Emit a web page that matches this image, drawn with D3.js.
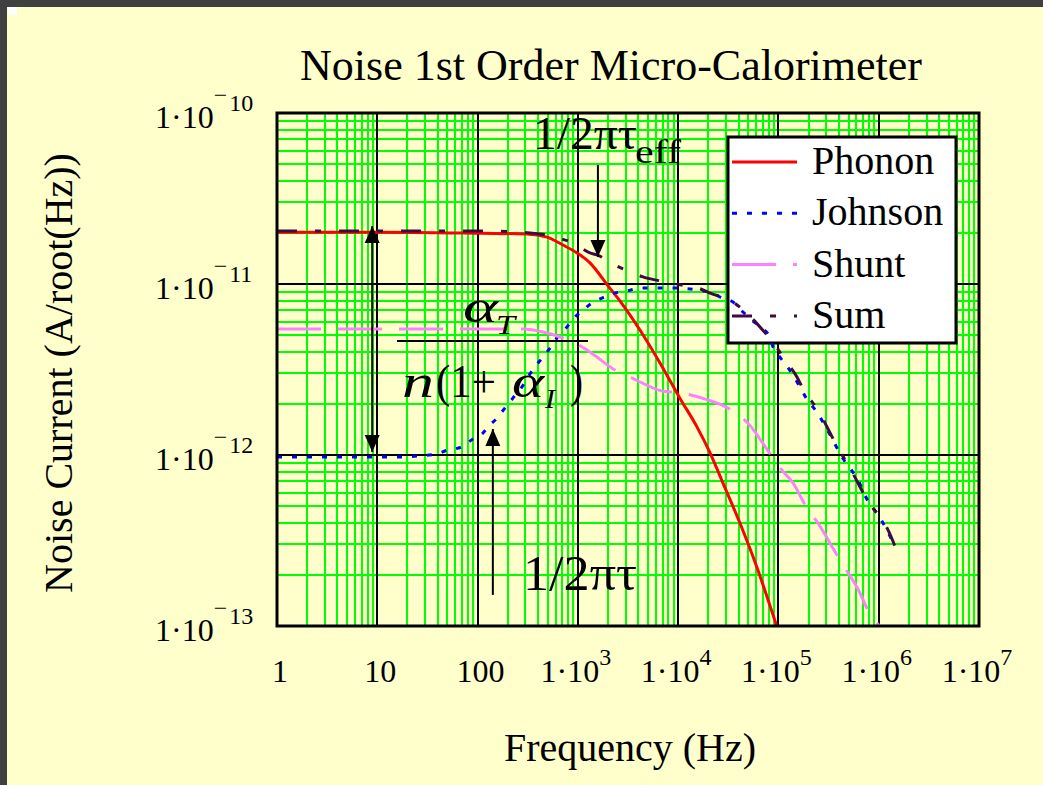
<!DOCTYPE html>
<html>
<head>
<meta charset="utf-8">
<script src="https://cdn.jsdelivr.net/npm/d3@7"></script>
<style>
  html, body { margin: 0; padding: 0; background: #404040; }
  svg { display: block; }
  text { font-family: "Liberation Serif", "Times New Roman", serif; fill: #000; }
</style>
</head>
<body>
<svg id="chart" width="1043" height="785"></svg>
<script>
// ---- axis ticks and labels ----
const xTickValues = [1, 10, 100, 1e3, 1e4, 1e5, 1e6, 1e7];
const xTickBase   = ["1", "10", "100", "1·10", "1·10", "1·10", "1·10", "1·10"];
const xTickSup    = ["", "", "", "3", "4", "5", "6", "7"];
const yTickValues = [1e-10, 1e-11, 1e-12, 1e-13];
const yTickBase   = ["1·10", "1·10", "1·10", "1·10"];
const yTickSup    = ["10", "11", "12", "13"];   // negative exponents

const seriesNames = ["Phonon", "Johnson", "Shunt", "Sum"];

// ---- noise spectra (A/√Hz) vs frequency (Hz) ----
const phononFreq  = [1, 10, 106, 311, 492, 710, 980, 1320, 2000, 2820, 4160, 6590, 10400, 15400, 20800, 28000, 41300, 61100, 96600];
const phononNoise = [2.01e-11, 2.01e-11, 1.98e-11, 1.96e-11, 1.88e-11, 1.69e-11, 1.52e-11, 1.33e-11, 9.75e-12, 7.53e-12, 5.38e-12, 3.45e-12, 2.15e-12, 1.46e-12, 1.03e-12, 6.85e-13, 4.0e-13, 2.2e-13, 9.9e-14];

const johnsonFreq  = [1, 14, 37.6, 50.7, 68.2, 89.9, 111, 130, 156, 187, 225, 277, 318, 373, 449, 540, 664, 778, 914, 1100, 1380, 1740, 2340, 3090, 4160, 8280, 15700, 21700, 27400, 35200, 44300, 54500, 65500, 82200, 88100, 101000, 122000, 164000, 192000, 237000, 333000, 430000, 516000, 607000, 762000, 1030000, 1450000];
const johnsonNoise = [9.73e-13, 9.73e-13, 1.01e-12, 1.07e-12, 1.11e-12, 1.24e-12, 1.33e-12, 1.48e-12, 1.64e-12, 1.88e-12, 2.15e-12, 2.50e-12, 2.86e-12, 3.27e-12, 3.74e-12, 4.29e-12, 5.11e-12, 5.61e-12, 6.32e-12, 6.95e-12, 7.74e-12, 8.28e-12, 8.85e-12, 9.10e-12, 9.48e-12, 9.48e-12, 9.23e-12, 8.85e-12, 8.28e-12, 7.85e-12, 6.86e-12, 6.15e-12, 5.61e-12, 4.90e-12, 4.30e-12, 3.80e-12, 3.30e-12, 2.50e-12, 2.12e-12, 1.81e-12, 1.29e-12, 9.73e-13, 8.39e-13, 7.33e-13, 5.53e-13, 4.29e-13, 2.94e-13];

const shuntFreq  = [1, 284, 449, 664, 935, 1320, 2340, 3460, 6890, 10400, 19800, 31400, 54500, 68600, 108000, 140000, 197000, 248000, 349000, 430000, 650000, 762000, 1030000];
const shuntNoise = [5.45e-12, 5.45e-12, 5.24e-12, 4.90e-12, 4.52e-12, 4.00e-12, 3.14e-12, 2.82e-12, 2.37e-12, 2.31e-12, 2.10e-12, 1.88e-12, 1.44e-12, 1.19e-12, 8.17e-13, 6.85e-13, 4.77e-13, 4.00e-13, 2.86e-13, 2.33e-13, 1.56e-13, 1.27e-13, 9.9e-14];

const sumFreq  = [1, 124, 492, 591, 893, 1320, 1550, 2340, 3540, 4460, 7390, 12300, 15700, 20800, 35200, 41300, 76800, 88100, 116000, 153000, 172000, 272000, 305000, 383000, 516000, 855000, 959000, 1240000, 1450000];
const sumNoise = [2.04e-11, 2.04e-11, 1.94e-11, 1.88e-11, 1.74e-11, 1.52e-11, 1.48e-11, 1.29e-11, 1.16e-11, 1.10e-11, 1.03e-11, 9.73e-12, 9.48e-12, 8.85e-12, 7.85e-12, 7.33e-12, 5.04e-12, 4.58e-12, 3.60e-12, 2.86e-12, 2.50e-12, 1.67e-12, 1.46e-12, 1.13e-12, 8.39e-13, 4.97e-13, 4.58e-13, 3.64e-13, 2.94e-13];

// annotation anchors in data units
const tauEffArrow = { f: 1585, from: 4.97e-11, to: 1.44e-11 };
const tauArrow    = { f: 142,  from: 1.52e-13, to: 1.42e-12 };
const gainArrow   = { f: 8.9,  top: 2.18e-11, bottom: 1.04e-12 };

// ---- layout ----
const W = 1043, H = 785;
const plot = { left: 277, top: 113, right: 979, bottom: 626 };
const svg = d3.select("#chart");

svg.append("rect").attr("width", W).attr("height", H).attr("fill", "#404040");
svg.append("rect").attr("x", 7).attr("y", 7).attr("width", W - 7).attr("height", H - 7).attr("fill", "#FFFFCC");
svg.append("rect").attr("x", 8).attr("y", 7).attr("width", 9).attr("height", 8).attr("fill", "#FFFFFF");

const x = d3.scaleLog().domain([1, 1e7]).range([plot.left, plot.right]);
const y = d3.scaleLog().domain([1e-13, 1e-10]).range([plot.bottom, plot.top]);
const plotW = plot.right - plot.left, plotH = plot.bottom - plot.top;

// ---- grid ----
const minorX = [], minorY = [];
for (let d = 0; d < 7; d++) for (let k = 2; k <= 9; k++) minorX.push(k * Math.pow(10, d));
for (let d = -13; d < -10; d++) for (let k = 2; k <= 9; k++) minorY.push(k * Math.pow(10, d));
const majorX = xTickValues.slice(1, -1);
const majorY = yTickValues.slice(1, -1);

function gridX(values, color, width) {
  const g = svg.append("g").attr("transform", `translate(0,${plot.bottom})`)
    .call(d3.axisBottom(x).tickValues(values).tickSize(-plotH).tickSizeOuter(0).tickFormat(""));
  g.select(".domain").remove();
  g.selectAll(".tick").attr("transform", d => `translate(${x(d)},0)`);
  g.selectAll("line").attr("stroke", color).attr("stroke-width", width).attr("shape-rendering", "crispEdges");
}
function gridY(values, color, width) {
  const g = svg.append("g").attr("transform", `translate(${plot.left},0)`)
    .call(d3.axisLeft(y).tickValues(values).tickSize(-plotW).tickSizeOuter(0).tickFormat(""));
  g.select(".domain").remove();
  g.selectAll(".tick").attr("transform", d => `translate(0,${y(d)})`);
  g.selectAll("line").attr("stroke", color).attr("stroke-width", width).attr("shape-rendering", "crispEdges");
}
gridX(minorX, "#00FF00", 2);
gridY(minorY, "#00FF00", 2);
gridX(majorX, "#000000", 2);
gridY(majorY, "#000000", 2);

// ---- tick labels ----
const xl = svg.append("g");
xTickValues.forEach((v, i) => {
  const t = xl.append("text")
    .attr("x", x(v) + (xTickSup[i] ? -2 : 3))
    .attr("y", 682)
    .attr("text-anchor", "middle")
    .attr("font-size", 32);
  t.append("tspan").text(xTickBase[i]);
  if (xTickSup[i]) t.append("tspan").attr("font-size", 24).attr("dy", -17).text(xTickSup[i]);
});

const yl = svg.append("g");
yTickValues.forEach((v, i) => {
  const t = yl.append("text")
    .attr("x", 155)
    .attr("y", y(v) + 15)
    .attr("font-size", 32);
  t.append("tspan").text(yTickBase[i]);
  t.append("tspan").attr("font-size", 24).attr("dy", -25).text("\u2212");
  t.append("tspan").attr("font-size", 24).attr("dx", 2).attr("dy", 8).text(yTickSup[i]);
});

// ---- titles ----
svg.append("text").attr("x", 611).attr("y", 80).attr("text-anchor", "middle")
  .attr("font-size", 44).text("Noise 1st Order Micro-Calorimeter");
svg.append("text").attr("x", 630).attr("y", 761).attr("text-anchor", "middle")
  .attr("font-size", 40).text("Frequency (Hz)");
svg.append("text").attr("transform", "translate(72,373) rotate(-90)").attr("text-anchor", "middle")
  .attr("font-size", 40).text("Noise Current (A/root(Hz))");

// ---- legend box (curves are drawn over it) ----
const series = [
  { f: phononFreq,  v: phononNoise,  color: "#FF0000", dash: null,         width: 3 },
  { f: johnsonFreq, v: johnsonNoise, color: "#0000FF", dash: "5,10",       width: 3 },
  { f: shuntFreq,   v: shuntNoise,   color: "#FF80FF", dash: "44,17",      width: 3 },
  { f: sumFreq,     v: sumNoise,     color: "#400A40", dash: "20,18,6,18", width: 3 }
];

const lg = svg.append("g");
lg.append("rect").attr("x", 728).attr("y", 137).attr("width", 228).attr("height", 206)
  .attr("fill", "#FFFFFF").attr("stroke", "#000").attr("stroke-width", 3);
seriesNames.forEach((name, i) => {
  const ly = 162 + i * 51.3;
  lg.append("line").attr("x1", 732).attr("x2", 797).attr("y1", ly).attr("y2", ly)
    .attr("stroke", series[i].color).attr("stroke-width", series[i].width)
    .attr("stroke-dasharray", series[i].dash);
  lg.append("text").attr("x", 812).attr("y", ly + 12).attr("font-size", 40).text(name);
});

// ---- curves ----
svg.append("clipPath").attr("id", "plotClip").append("rect")
  .attr("x", plot.left).attr("y", plot.top).attr("width", plotW).attr("height", plotH);

const line = d3.line().x(d => x(d[0])).y(d => y(d[1])).curve(d3.curveMonotoneX);
const curves = svg.append("g").attr("clip-path", "url(#plotClip)");
series.forEach(s => {
  curves.append("path")
    .datum(s.f.map((f, i) => [f, s.v[i]]))
    .attr("d", line)
    .attr("fill", "none")
    .attr("stroke", s.color)
    .attr("stroke-width", s.width)
    .attr("stroke-dasharray", s.dash);
});

// ---- annotations ----
const ann = svg.append("g");
function arrowHead(px, py, dir) {
  // dir = +1 points down, -1 points up
  ann.append("path")
    .attr("d", `M${px},${py} L${px - 7.5},${py - dir * 17} L${px + 7.5},${py - dir * 17} Z`)
    .attr("fill", "#000");
}
function vArrow(f, v1, v2, bothEnds) {
  const px = x(f), y1 = y(v1), y2 = y(v2);
  ann.append("line").attr("x1", px).attr("x2", px).attr("y1", y1).attr("y2", y2)
    .attr("stroke", "#000").attr("stroke-width", 2);
  arrowHead(px, y2, y2 > y1 ? 1 : -1);
  if (bothEnds) arrowHead(px, y1, y1 > y2 ? 1 : -1);
}
vArrow(tauEffArrow.f, tauEffArrow.from, tauEffArrow.to, false);
vArrow(tauArrow.f, tauArrow.from, tauArrow.to, false);
vArrow(gainArrow.f, gainArrow.top, gainArrow.bottom, true);

// glyph run placed at a given width, so the math reads with its wide spacing
function glyph(txt, gx, gy, size, width, italic) {
  ann.append("text").attr("x", gx).attr("y", gy).attr("font-size", size)
    .attr("font-style", italic ? "italic" : "normal")
    .attr("textLength", width).attr("lengthAdjust", "spacingAndGlyphs")
    .text(txt);
}

// 1/2πτ_eff
glyph("1/2πτ", 533, 149, 46, 104, false);
glyph("eff", 635, 163, 34, 46, false);

// 1/2πτ
glyph("1/2πτ", 523, 590, 50, 114, false);

// α_T / n(1+α_I)
glyph("α", 463, 322, 46, 35, true);
glyph("T", 496, 334, 28, 19, true);
ann.append("line").attr("x1", 397).attr("x2", 588).attr("y1", 341).attr("y2", 341)
  .attr("stroke", "#000").attr("stroke-width", 2);
glyph("n", 402, 397, 46, 32, true);
glyph("(1+", 436, 397, 46, 60, false);
glyph("α", 512, 397, 46, 32, true);
glyph("I", 545, 408, 28, 10, true);
glyph(")", 570, 397, 46, 13, false);

// ---- plot frame ----
svg.append("rect").attr("x", plot.left).attr("y", plot.top).attr("width", plotW).attr("height", plotH)
  .attr("fill", "none").attr("stroke", "#000").attr("stroke-width", 3);
</script>
</body>
</html>
